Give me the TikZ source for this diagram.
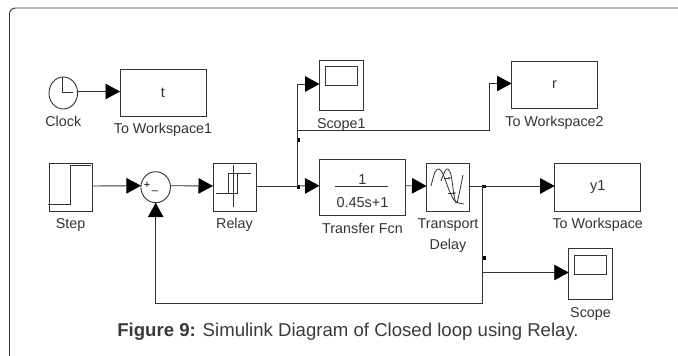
\documentclass[tikz,border=0pt]{standalone}
\usepackage{fontspec}
\setmainfont{Liberation Sans}
\usetikzlibrary{arrows.meta,positioning,shapes.geometric}
\definecolor{wirecol}{HTML}{333333}
\definecolor{captcol}{HTML}{3A3A3A}
\tikzset{
  block/.style={draw=wirecol,line width=0.9pt,rectangle,inner sep=0pt,outer sep=0pt,font=\fontsize{14.5}{16}\selectfont,text=wirecol},
  wsblock/.style={block,minimum width=86pt,minimum height=47.5pt},
  iconblock/.style={block,minimum width=43pt,minimum height=47.5pt},
  scopeblock/.style={block,minimum width=43.5pt,minimum height=50.5pt},
  tag/.style={inner sep=0pt,outer sep=0pt,text=wirecol,font=\fontsize{14.3}{16}\selectfont,text height=10.5pt,text depth=3pt},
  sig/.style={draw=wirecol,line width=0.9pt,-{Triangle[length=14.5pt,width=15.5pt,color=black]}},
  plain/.style={draw=wirecol,line width=0.9pt},
  dot/.style={fill=black,inner sep=0pt,minimum size=3.5pt,rectangle},
  icon/.style={draw=wirecol,line width=0.8pt}
}
\begin{document}
\begin{tikzpicture}[x=1pt,y=-1pt]
    \useasboundingbox (0,0) rectangle (678,356);
    % frame
    \draw[plain,rounded corners=6pt] (9.5,356) -- (9.5,8) -- (678,8);
    % blocks
    \node[block,ellipse,minimum width=28.6pt,minimum height=32pt] (clock) at (63.3,93) {};
    \node[wsblock] (ws_t)     at (163,93)    {t};
    \node[scopeblock] (scope1) at (341.3,85.5) {};
    \node[wsblock] (ws_r)     at (554.5,85)  {r};
    \node[iconblock] (step)   at (70.5,187.5)  {};
    \node[block,ellipse,minimum width=29.5pt,minimum height=31pt] (sum) at (155.7,187.2) {};
    \node[iconblock] (relay)  at (234.5,187.5) {};
    \node[wsblock,minimum height=56.5pt] (tf) at (362.5,187.2) {};
    \node[iconblock] (delay)  at (448,187.5) {};
    \node[wsblock] (ws_y)     at (597.7,187.5) {y1};
    \node[scopeblock] (scope) at (590.5,273.7) {};
    % labels
    \node[tag,below=7pt of clock] (clock_l)   {Clock};
    \node[tag,below=6pt of ws_t] (ws_t_l)     {To Workspace1};
    \node[tag,below=7pt of scope1] (scope1_l) {Scope1};
    \node[tag,below=7pt of ws_r] (ws_r_l)     {To Workspace2};
    \node[tag,below=7pt of step] (step_l)     {Step};
    \node[tag,below=7pt of relay] (relay_l)   {Relay};
    \node[tag,below=8pt of tf] (tf_l)         {Transfer Fcn};
    \node[tag,below=7pt of delay] (delay_l)   {Transport};
    \node[tag,below=7.5pt of delay_l] (delay_m) {Delay};
    \node[tag,below=7pt of ws_y] (ws_y_l)     {To Workspace};
    \node[tag,below=8pt of scope] (scope_l)   {Scope};
    \node[inner sep=0pt,text=captcol,font=\fontsize{18.6}{21}\selectfont] (cap) at (348,332)
      {\textbf{Figure 9:} Simulink Diagram of Closed loop using Relay.};
    % icons
    \draw[icon] (clock.center) ++(-1,-16) -- ++(0,15.5) -- ++(11,0);
    \draw[icon] (48,204.5) -- (70,204.5) -- (70,165) -- (91,165);
    \draw[icon] (216,193.5) -- (237.3,193.5) -- (237.3,173.5) (228.7,193.5) -- (228.7,173.5) -- (251,173.5);
    \draw[icon] (233,165) -- (233,207);
    \node[inner sep=0pt,font=\fontsize{11}{11}\selectfont] (plus) at (147,185.5) {+};
    \node[inner sep=0pt,font=\fontsize{11}{11}\selectfont] (minus) at (155,191) {\_};
    \draw[icon] (335,186) -- (388,186);
    \node[block,draw=none,above=3pt of tf.center] (num) {1};
    \node[block,draw=none,below=10pt of tf.center] (den) {0.45s+1};
    \draw[icon] plot[smooth] coordinates {(431,186) (435,172) (439,169) (443,174) (449,190) (454,200) (459,203) (464,204)};
    \draw[icon] plot[smooth] coordinates {(441,181) (445,171) (448,169) (451,175) (454,195) (456,203) (458,199) (463,175)};
    \draw[icon,-{Stealth[length=3pt]}] (444,178) -- (451,178);
    \draw[icon,-{Stealth[length=3pt]}] (448,193) -- (456,193);
    \draw[icon] (325.5,66) rectangle (357,85);
    \draw[icon] (574.5,255) rectangle (606.5,274);
    % junctions
    \coordinate (j_relay) at (297.5,186);
    \coordinate (j_up) at (297.5,130.7);
    \coordinate (j_r) at (489,130.7);
    \coordinate (j_delay) at (482.7,186);
    \coordinate (j_scope) at (482.7,272.5);
    \coordinate (j_back) at (482.7,303.5);
    \node[dot] (dot_a) at (298.5,187) {};
    \node[dot] (dot_b) at (298.5,140) {};
    \node[dot] (dot_c) at (484,186.5) {};
    \node[dot] (dot_d) at (484,258) {};
    % connectors
    \draw[sig] ([yshift=1.5pt]clock.east) -- ([yshift=1.5pt]ws_t.west);
    \draw[sig] ([yshift=1.5pt]step.east) -- ([yshift=1.5pt]sum.west);
    \draw[sig] ([yshift=1.5pt]sum.east) -- ([yshift=1.5pt]relay.west);
    \draw[plain] ([yshift=1.5pt]relay.east) -- (j_relay);
    \draw[sig] (j_relay) -- ([yshift=1.5pt]tf.west);
    \draw[sig] (j_relay) |- ([yshift=1.5pt]scope1.west);
    \draw[sig] (j_up) -- (j_r) |- ([yshift=1.5pt]ws_r.west);
    \draw[sig] ([yshift=1.5pt]tf.east) -- ([yshift=1.5pt]delay.west);
    \draw[plain] ([yshift=1.5pt]delay.east) -- (j_delay);
    \draw[sig] (j_delay) -- ([yshift=1.5pt]ws_y.west);
    \draw[plain] (j_delay) -- (j_scope);
    \draw[sig] (j_scope) -- (scope.west |- j_scope);
    \draw[sig] (j_scope) |- (j_back) -| (sum.south);
\end{tikzpicture}
\end{document}
